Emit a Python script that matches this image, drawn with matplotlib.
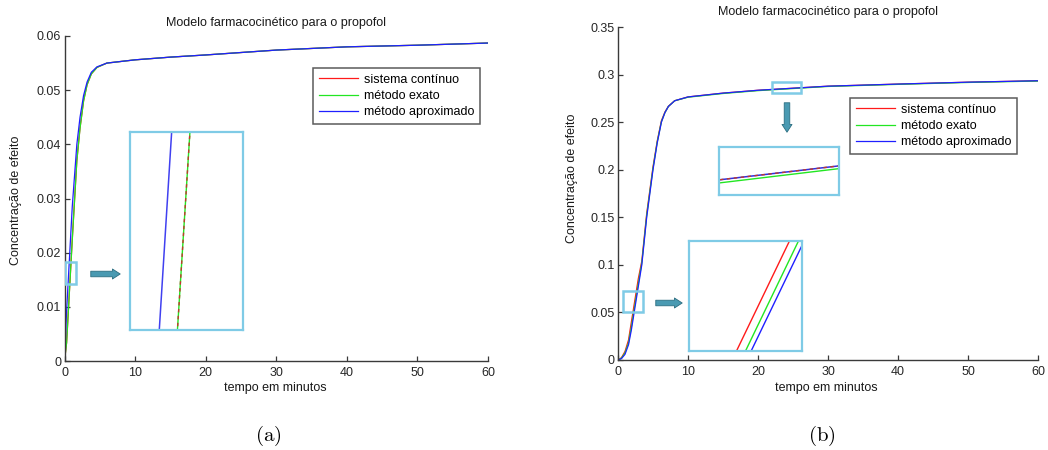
import matplotlib
matplotlib.use("Agg")
import matplotlib.pyplot as plt
from matplotlib.patches import Rectangle, FancyArrowPatch
from matplotlib.ticker import FormatStrFormatter

plt.rcParams['font.family'] = ['Liberation Sans', 'DejaVu Sans']
plt.rcParams['mathtext.fontset'] = 'cm'

TITLE = "Modelo farmacocinético para o propofol"
XLABEL = "tempo em minutos"
YLABEL = "Concentração de efeito"
SERIES = ["sistema contínuo", "método exato", "método aproximado"]

# ---- panel (a) ----
t_a = [0, 0.3, 1.1, 1.75, 2.2, 2.7, 3.2, 3.8, 4.6, 6, 8, 10, 15, 20, 30, 40, 50, 60]
cont_a = [0, 0.0034, 0.0224, 0.037, 0.043, 0.048, 0.051, 0.0530, 0.0542, 0.0550,
          0.0553, 0.0556, 0.0561, 0.0565, 0.0574, 0.0580, 0.0583, 0.0587]
exato_a = [0, 0.0034, 0.0224, 0.037, 0.043, 0.048, 0.051, 0.0530, 0.0542, 0.0550,
           0.0553, 0.0556, 0.0561, 0.0565, 0.0574, 0.0580, 0.0583, 0.0587]
aprox_a = [0, 0.0093, 0.0285, 0.040, 0.045, 0.049, 0.0515, 0.0533, 0.0543, 0.0550,
           0.0553, 0.0556, 0.0561, 0.0565, 0.0574, 0.0580, 0.0583, 0.0587]

# ---- panel (b) ----
t_b = [0, 0.5, 1.0, 1.5, 1.9, 2.9, 3.4, 4.1, 5.0, 5.6, 6.2, 6.7, 7.2, 8.1,
       10, 15, 20, 30, 40, 50, 60]
cont_b = [0, 0.0025, 0.009, 0.021, 0.0395, 0.0855, 0.104, 0.154, 0.203, 0.230,
          0.2515, 0.2605, 0.2667, 0.2725, 0.2765, 0.2805, 0.2835, 0.2878, 0.2900,
          0.2920, 0.2935]
exato_b = [0, 0.002, 0.0075, 0.018, 0.0344, 0.0804, 0.102, 0.152, 0.2015, 0.229,
           0.2505, 0.2600, 0.2665, 0.2725, 0.2762, 0.2801, 0.2831, 0.2875, 0.2897,
           0.2917, 0.2932]
aprox_b = [0, 0.0015, 0.006, 0.016, 0.0312, 0.0772, 0.100, 0.150, 0.200, 0.228,
           0.250, 0.260, 0.2665, 0.2725, 0.2765, 0.2805, 0.2835, 0.2878, 0.2900,
           0.2920, 0.2935]

RED, GREEN, BLUE = '#ff1a1a', '#22e622', '#1f1fff'
FRAME = '#7fcbe6'
AX_COLOR = '#3a3a3a'
ARROW_FACE, ARROW_EDGE = '#4a9ab2', '#2b6d80'

W, H = 1048, 450
fig = plt.figure(figsize=(W / 100, H / 100), dpi=100)


def px_rect(x0, y0, x1, y1):
    """figure rectangle from pixel corners (top-left origin)"""
    return [x0 / W, 1 - y1 / H, (x1 - x0) / W, (y1 - y0) / H]


def style_main(ax, ylim, yticks):
    for s in ('top', 'right'):
        ax.spines[s].set_visible(False)
    for s in ('left', 'bottom'):
        ax.spines[s].set_color(AX_COLOR)
        ax.spines[s].set_linewidth(1.0)
    ax.set_xlim(0, 60)
    ax.set_ylim(*ylim)
    ax.set_xticks(range(0, 61, 10))
    ax.set_yticks(yticks)
    ax.yaxis.set_major_formatter(FormatStrFormatter('%g'))
    ax.tick_params(direction='in', length=3.5, width=0.9, colors=AX_COLOR,
                   labelsize=9, labelcolor='#262626')
    ax.tick_params(axis='x', pad=4)
    ax.tick_params(axis='y', pad=2.5)


def style_inset(ax):
    ax.set_xticks([])
    ax.set_yticks([])
    for s in ax.spines.values():
        s.set_color(FRAME)
        s.set_linewidth(1.6)


def arrow(x0, y0, x1, y1):
    a = FancyArrowPatch((x0 / W, 1 - y0 / H), (x1 / W, 1 - y1 / H),
                        transform=fig.transFigure,
                        arrowstyle="simple,head_length=0.7,head_width=0.9,tail_width=0.5",
                        mutation_scale=8, facecolor=ARROW_FACE,
                        edgecolor=ARROW_EDGE, linewidth=0.6)
    fig.patches.append(a)


def zoom_box(ax, x0, x1, y0, y1):
    ax.add_patch(Rectangle((x0, y0), x1 - x0, y1 - y0, fill=False,
                           edgecolor=FRAME, linewidth=1.8, zorder=5))


# ================= panel (a) =================
axa = fig.add_axes(px_rect(64.5, 36, 488, 361))
axa.plot(t_a, cont_a, color=RED, lw=0.9, label=SERIES[0])
axa.plot(t_a, exato_a, color=GREEN, lw=0.9, label=SERIES[1])
axa.plot(t_a, aprox_a, color=BLUE, lw=0.9, label=SERIES[2])
style_main(axa, (0, 0.06), [0, 0.01, 0.02, 0.03, 0.04, 0.05, 0.06])
axa.text(0.5, 1.04, TITLE, transform=axa.transAxes, ha='center', va='center',
         fontsize=9, color='#1a1a1a')
axa.set_xlabel(XLABEL, fontsize=9, color='#1a1a1a')
axa.xaxis.set_label_coords(0.497, -0.083)
axa.xaxis.label.set_va('center')
axa.set_ylabel(YLABEL, fontsize=9, color='#1a1a1a')
axa.yaxis.set_label_coords(-0.1145, 0.495)
axa.yaxis.label.set_va('center')
leg = axa.legend(loc='upper right', bbox_to_anchor=(0.981, 0.9015), fontsize=9,
                 frameon=True, fancybox=False, handlelength=3.1, handletextpad=0.5,
                 borderpad=0.45, labelspacing=0.35, borderaxespad=0)
leg.get_frame().set_edgecolor('#333333')
leg.get_frame().set_linewidth(1.1)

ia_x, ia_y = (0.1, 1.66), (0.0142, 0.0183)
zoom_box(axa, ia_x[0], ia_x[1], ia_y[0], ia_y[1])
ina = fig.add_axes(px_rect(130, 132, 243, 330))
ina.plot(t_a, exato_a, color=GREEN, lw=1.0)
ina.plot(t_a, cont_a, color='#c0392b', lw=1.0, dashes=(2.5, 2.5))
ina.plot(t_a, aprox_a, color='#4040f0', lw=1.1)
ina.set_xlim(*ia_x)
ina.set_ylim(*ia_y)
style_inset(ina)
arrow(88, 274, 123, 274)

# ================= panel (b) =================
axb = fig.add_axes(px_rect(618, 27, 1038, 360))
axb.plot(t_b, cont_b, color=RED, lw=0.9, label=SERIES[0])
axb.plot(t_b, exato_b, color=GREEN, lw=0.9, label=SERIES[1])
axb.plot(t_b, aprox_b, color=BLUE, lw=0.9, label=SERIES[2])
style_main(axb, (0, 0.35), [0, 0.05, 0.1, 0.15, 0.2, 0.25, 0.3, 0.35])
axb.text(0.5, 1.045, TITLE, transform=axb.transAxes, ha='center', va='center',
         fontsize=9, color='#1a1a1a')
axb.set_xlabel(XLABEL, fontsize=9, color='#1a1a1a')
axb.xaxis.set_label_coords(0.497, -0.083)
axb.xaxis.label.set_va('center')
axb.set_ylabel(YLABEL, fontsize=9, color='#1a1a1a')
axb.yaxis.set_label_coords(-0.1095, 0.547)
axb.yaxis.label.set_va('center')
for lbl in axb.get_xticklabels():
    lbl.set_clip_on(False)
legb = axb.legend(loc='upper right', bbox_to_anchor=(0.95, 0.787), fontsize=9,
                  frameon=True, fancybox=False, handlelength=3.1, handletextpad=0.5,
                  borderpad=0.45, labelspacing=0.35, borderaxespad=0)
legb.get_frame().set_edgecolor('#333333')
legb.get_frame().set_linewidth(1.1)

# upper zoom: plateau
zoom_box(axb, 22, 26.1, 0.2808, 0.2923)
inb1 = fig.add_axes(px_rect(719, 147, 839, 195))
inb1.plot(t_b, exato_b, color=GREEN, lw=1.0)
inb1.plot(t_b, aprox_b, color='#3030e0', lw=1.1)
inb1.plot(t_b, cont_b, color='#c0392b', lw=1.0, dashes=(2.5, 2.5))
inb1.set_xlim(22, 26)
inb1.set_ylim(0.2825, 0.2884)
style_inset(inb1)
arrow(787, 100, 787, 135)

# lower zoom: rising phase
zoom_box(axb, 0.7, 3.6, 0.0505, 0.0726)
inb2 = fig.add_axes(px_rect(689, 241, 802, 351))
inb2.plot(t_b, cont_b, color=RED, lw=1.0)
inb2.plot(t_b, exato_b, color=GREEN, lw=1.0)
inb2.plot(t_b, aprox_b, color=BLUE, lw=1.0)
inb2.set_xlim(1.435, 2.826)
inb2.set_ylim(0.045, 0.075)
style_inset(inb2)
arrow(653, 303, 685, 303)

# sub-figure captions
fig.text(268 / W, 1 - 436 / H, r'$\mathrm{(a)}$', ha='center', va='center', fontsize=15)
fig.text(822 / W, 1 - 436 / H, r'$\mathrm{(b)}$', ha='center', va='center', fontsize=15)

fig.savefig("out.png", dpi=100)
